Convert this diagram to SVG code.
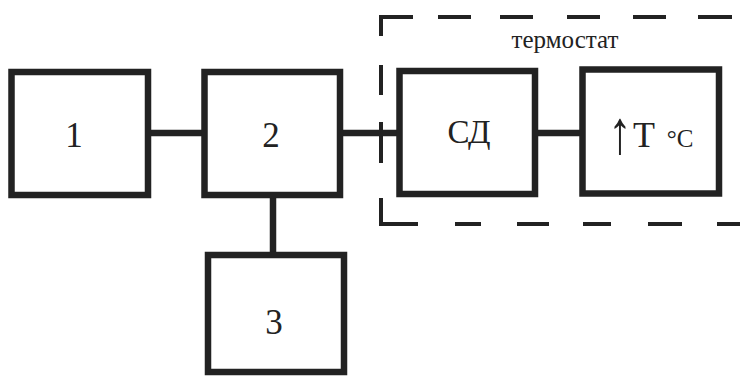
<svg xmlns="http://www.w3.org/2000/svg" width="740" height="376" viewBox="0 0 740 376">
  <style>
    .box { fill: #ffffff; stroke: #222222; stroke-width: 6.5; }
    .wire { stroke: #222222; stroke-width: 6.5; fill: none; }
    .frame { stroke: #222222; stroke-width: 4; fill: none; }
    .lbl { font-family: "Liberation Serif", "DejaVu Serif", "Times New Roman", serif; fill: #222222; text-anchor: middle; }
  </style>
  <rect width="740" height="376" fill="#ffffff"/>

  <!-- dashed thermostat enclosure -->
  <g id="thermostat-frame">
    <path class="frame" d="M413 17 H381 V36 M438 17 H471 M500 17 H533 M567 17 H600 M633 17 H666 M698 17 H732
      M381 65 V95 M381 122 V163 M381 198 V224 H418 M455 224 H481 M517 224 H549 M583 224 H611 M648 224 H682 M717 224 H740"/>
    <text class="lbl" x="565" y="48" font-size="25">термостат</text>
  </g>

  <!-- connectors -->
  <g id="connectors">
    <line class="wire" x1="148" y1="133" x2="204.5" y2="133"/>
    <line class="wire" x1="340" y1="133" x2="399.5" y2="133"/>
    <line class="wire" x1="535" y1="133" x2="582.5" y2="133"/>
    <line class="wire" x1="273" y1="195" x2="273" y2="255"/>
  </g>

  <g id="node-1">
    <rect class="box" x="11.5" y="72" width="136.5" height="123"/>
    <text class="lbl" x="74" y="147" font-size="35">1</text>
  </g>
  <g id="node-2">
    <rect class="box" x="204.5" y="72" width="135.5" height="123"/>
    <text class="lbl" x="271" y="147" font-size="35">2</text>
  </g>
  <g id="node-3">
    <rect class="box" x="208" y="255" width="136" height="117"/>
    <text class="lbl" x="274" y="334" font-size="35">3</text>
  </g>
  <g id="node-sd">
    <rect class="box" x="399.5" y="71" width="135.5" height="123"/>
    <text class="lbl" x="469" y="143" font-size="33">СД</text>
  </g>
  <g id="node-temp">
    <rect class="box" x="582.5" y="69.5" width="136.5" height="124"/>
    <!-- tall thin arrow glyph, stretched vertically -->
    <text class="lbl" font-size="36" transform="translate(620,153) scale(1.3,1.7)">↑</text>
    <text class="lbl" y="147" font-size="36"><tspan x="644">T</tspan><tspan x="680" font-size="25">°C</tspan></text>
  </g>
</svg>
